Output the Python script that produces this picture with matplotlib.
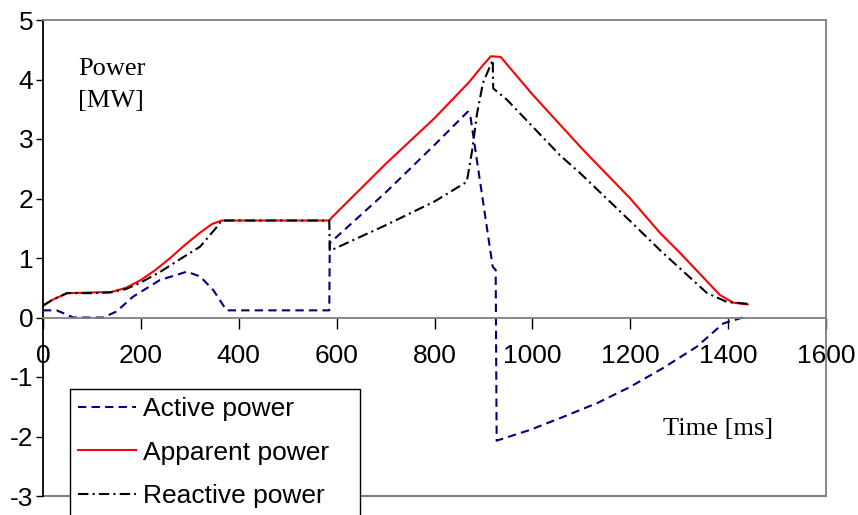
import numpy as np
import matplotlib
matplotlib.use("Agg")
import matplotlib.pyplot as plt

# values
t_apparent = [0, 20, 50, 100, 140, 170, 200, 230, 260, 290, 320, 345, 365, 585, 590,
              700, 800, 870, 900, 915, 935, 1000, 1100, 1200, 1261, 1300, 1383, 1410, 1440]
apparent = [0.2, 0.3, 0.41, 0.42, 0.43, 0.5, 0.63, 0.8, 1.0, 1.22, 1.42, 1.57, 1.63, 1.63, 1.68,
            2.58, 3.35, 3.95, 4.25, 4.39, 4.38, 3.75, 2.85, 2.0, 1.42, 1.1, 0.38, 0.25, 0.22]

t_reactive = [0, 20, 49, 100, 137, 170, 198, 240, 280, 321, 355, 365, 585, 586, 700, 800,
              866, 877, 887, 899, 919, 920, 948, 1056, 1097, 1200, 1261, 1357, 1398, 1440]
reactive = [0.2, 0.3, 0.41, 0.41, 0.42, 0.48, 0.58, 0.77, 0.98, 1.19, 1.52, 1.63, 1.63, 1.12, 1.55, 1.95,
            2.28, 2.81, 3.43, 3.94, 4.33, 3.85, 3.66, 2.73, 2.43, 1.62, 1.13, 0.41, 0.26, 0.23]

t_active = [0, 28, 62, 123, 150, 184, 239, 294, 321, 348, 375, 585, 586, 700, 800, 868, 873,
            919, 925, 927, 995, 1063, 1132, 1199, 1267, 1336, 1390, 1430, 1440]
active = [0.12, 0.12, 0.0, 0.0, 0.1, 0.35, 0.63, 0.77, 0.69, 0.46, 0.12, 0.12, 1.25, 2.1, 2.9, 3.46, 3.4,
          0.85, 0.8, -2.07, -1.89, -1.67, -1.44, -1.17, -0.85, -0.49, -0.1, 0.0, 0.0]

xticks = [0, 200, 400, 600, 800, 1000, 1200, 1400, 1600]
yticks = [-3, -2, -1, 0, 1, 2, 3, 4, 5]

plt.rcParams["font.family"] = ["Liberation Sans", "DejaVu Sans"]
plt.rcParams["axes.unicode_minus"] = False
serif = ["Liberation Serif", "DejaVu Serif"]

fig = plt.figure(figsize=(8.58, 5.15), dpi=100)
ax = fig.add_axes([43 / 858, 1 - 496 / 515, (826 - 43) / 858, (496 - 20) / 515])

ax.plot(t_active, active, color="#000080", lw=1.5, dashes=(4, 2.5), label="Active power")
ax.plot(t_apparent, apparent, color="#ff0000", lw=1.5, label="Apparent power")
ax.plot(t_reactive, reactive, color="black", lw=1.5, dashes=(5, 2, 1, 2), label="Reactive power")

ax.set_xlim(0, 1600)
ax.set_ylim(-3, 5)
ax.set_xticks(xticks)
ax.set_yticks(yticks)

gray = "#808080"
ax.spines["bottom"].set_position(("data", 0))
ax.spines["bottom"].set_color(gray)
ax.spines["top"].set_color(gray)
ax.spines["right"].set_color(gray)
ax.spines["left"].set_color("black")
for s in ax.spines.values():
    s.set_linewidth(1.3)
ax.axhline(-3, color=gray, lw=1.5, clip_on=False, zorder=0)

ax.tick_params(axis="x", direction="out", length=8, width=1, pad=11, labelsize=19)
ax.tick_params(axis="y", direction="out", length=5, width=1, pad=2, labelsize=19)

fig.text(78 / 858, 1 - 75 / 515, "Power", family=serif, fontsize=19, va="baseline", ha="left")
fig.text(78 / 858, 1 - 107 / 515, "[MW]", family=serif, fontsize=19, va="baseline", ha="left")
fig.text(663 / 858, 1 - 435 / 515, "Time [ms]", family=serif, fontsize=19, va="baseline", ha="left")

leg = fig.legend(loc="upper left",
                 bbox_to_anchor=(70 / 858, 1 - 389 / 515 - 0.2, 290 / 858, 0.2),
                 mode="expand",
                 fontsize=19, frameon=True, fancybox=False, framealpha=1,
                 edgecolor="black", handlelength=2.2, handletextpad=0.25,
                 labelspacing=0.75, borderpad=0.3, borderaxespad=0)
leg.get_frame().set_linewidth(1.0)
leg.set_zorder(10)

fig.savefig("out.png", dpi=100)
